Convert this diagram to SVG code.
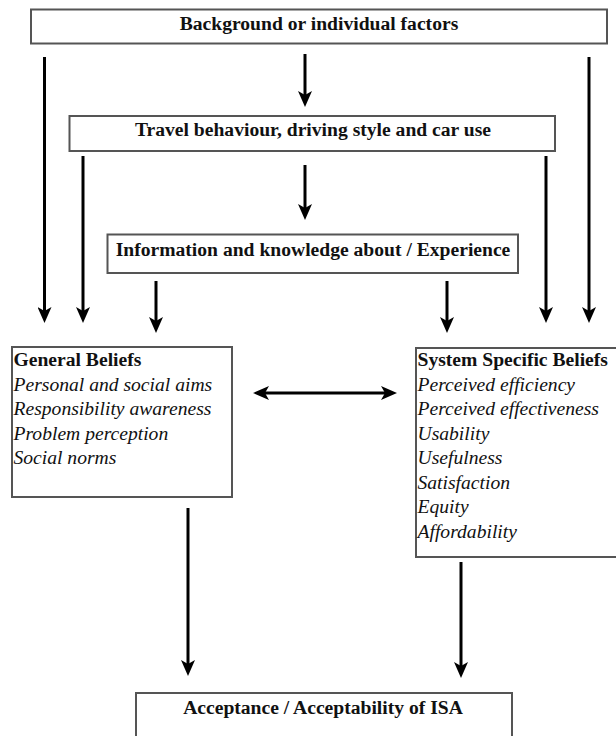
<svg xmlns="http://www.w3.org/2000/svg" width="616" height="736" viewBox="0 0 616 736">
<style>
.box{fill:#fff;stroke:#555;stroke-width:2}
.t{font-family:"Liberation Serif","Times New Roman",serif;font-size:19.6px;fill:#111}
.b{font-weight:bold}
.c{text-anchor:middle}
.i{font-style:italic}
.ln{stroke:#000;stroke-width:3;fill:none;marker-end:url(#ah)}
</style>
<defs>
<marker id="ah" viewBox="0 0 16 14" refX="6" refY="7" markerWidth="16" markerHeight="14" markerUnits="userSpaceOnUse" orient="auto-start-reverse">
<path d="M0,0 L16,7 L0,14 L4,7 z" fill="#000"/>
</marker>
</defs>
<rect width="616" height="736" fill="#fff"/>
<g id="background">
<rect class="box" x="31" y="9.5" width="576" height="34"/>
<text class="t b c" x="319" y="30">Background or individual factors</text>
</g>
<g id="travel">
<rect class="box" x="69.5" y="116" width="485.5" height="35"/>
<text class="t b c" x="313" y="136">Travel behaviour, driving style and car use</text>
</g>
<g id="information">
<rect class="box" x="107.5" y="234.5" width="410.5" height="38.5"/>
<text class="t b c" x="313" y="256">Information and knowledge about / Experience</text>
</g>
<g id="general">
<rect class="box" x="12" y="347" width="220" height="150"/>
<text class="t b" x="13.5" y="366">General Beliefs</text>
<text class="t i" x="13.5" y="390.5">Personal and social aims</text>
<text class="t i" x="13.5" y="415">Responsibility awareness</text>
<text class="t i" x="13.5" y="439.5">Problem perception</text>
<text class="t i" x="13.5" y="464">Social norms</text>
</g>
<g id="system">
<rect class="box" x="416" y="348" width="210" height="209"/>
<text class="t b" x="417.5" y="366">System Specific Beliefs</text>
<text class="t i" x="417.5" y="390.5">Perceived efficiency</text>
<text class="t i" x="417.5" y="415">Perceived effectiveness</text>
<text class="t i" x="417.5" y="439.5">Usability</text>
<text class="t i" x="417.5" y="464">Usefulness</text>
<text class="t i" x="417.5" y="488.5">Satisfaction</text>
<text class="t i" x="417.5" y="513">Equity</text>
<text class="t i" x="417.5" y="537.5">Affordability</text>
</g>
<g id="acceptance">
<rect class="box" x="136" y="693" width="376" height="60"/>
<text class="t b c" x="323" y="714">Acceptance / Acceptability of ISA</text>
</g>
<g id="connectors">
<line class="ln" x1="44.5" y1="57" x2="44.5" y2="313"/>
<line class="ln" x1="83" y1="156" x2="83" y2="313"/>
<line class="ln" x1="546" y1="156" x2="546" y2="313"/>
<line class="ln" x1="589" y1="57" x2="589" y2="313"/>
<line class="ln" x1="305" y1="54" x2="305" y2="97"/>
<line class="ln" x1="305" y1="165" x2="305" y2="210"/>
<line class="ln" x1="156" y1="281" x2="156" y2="323"/>
<line class="ln" x1="447" y1="281" x2="447" y2="323"/>
<line class="ln" x1="188" y1="508" x2="188" y2="666"/>
<line class="ln" x1="461" y1="562" x2="461" y2="668"/>
<line class="ln" x1="263" y1="393" x2="387" y2="393" marker-start="url(#ah)"/>
</g>
</svg>
